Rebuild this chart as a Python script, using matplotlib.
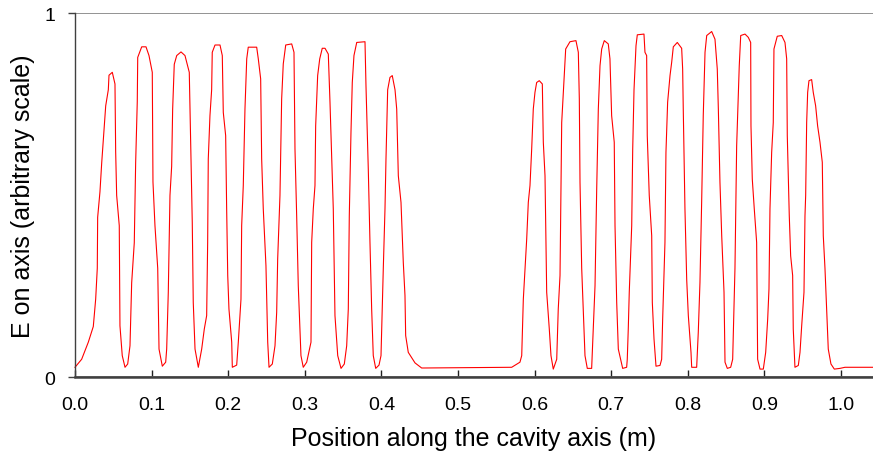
import matplotlib
matplotlib.use('Agg')
import matplotlib.pyplot as plt

# Campo eléctrico sobre el eje: muestreo del perfil a lo largo de la cavidad
pos_m = [
    0.000, 0.0087, 0.0174, 0.0239, 0.0270, 0.0291, 0.0296, 0.0326, 0.0349, 0.0369,
    0.0401, 0.0435, 0.0444, 0.0487, 0.0522, 0.0531, 0.0544, 0.0578, 0.0587, 0.0617,
    0.0653, 0.0688, 0.0718, 0.0740, 0.0774, 0.0792, 0.0813, 0.0819, 0.0871, 0.0927,
    0.0966, 0.1009, 0.1018, 0.1044, 0.1080, 0.1097, 0.1140, 0.1184, 0.1197, 0.1218,
    0.1240, 0.1262, 0.1275, 0.1296, 0.1328, 0.1384, 0.1436, 0.1492, 0.1514, 0.1531,
    0.1544, 0.1567, 0.1610, 0.1654, 0.1688, 0.1719, 0.1732, 0.1740, 0.1762, 0.1784,
    0.1792, 0.1828, 0.1893, 0.1923, 0.1936, 0.1967, 0.1980, 0.1994, 0.2010, 0.2046,
    0.2054, 0.2111, 0.2132, 0.2167, 0.2176, 0.2197, 0.2219, 0.2242, 0.2262, 0.2372,
    0.2393, 0.2424, 0.2437, 0.2458, 0.2493, 0.2516, 0.2533, 0.2576, 0.2611, 0.2633,
    0.2646, 0.2676, 0.2698, 0.2719, 0.2751, 0.2829, 0.2859, 0.2872, 0.2894, 0.2915,
    0.2950, 0.2980, 0.3025, 0.3081, 0.3090, 0.3111, 0.3133, 0.3142, 0.3168, 0.3195,
    0.3228, 0.3264, 0.3307, 0.3329, 0.3351, 0.3372, 0.3394, 0.3430, 0.3473, 0.3516,
    0.3547, 0.3568, 0.3581, 0.3603, 0.3620, 0.3642, 0.3678, 0.3786, 0.3799, 0.3829,
    0.3851, 0.3873, 0.3894, 0.3926, 0.3969, 0.3995, 0.4025, 0.4047, 0.4060, 0.4082,
    0.4112, 0.4142, 0.4178, 0.4200, 0.4221, 0.4256, 0.4286, 0.4308, 0.4317, 0.4351,
    0.4439, 0.4526, 0.5701, 0.5809, 0.5832, 0.5853, 0.5875, 0.5897, 0.5918, 0.5940,
    0.5962, 0.5983, 0.6005, 0.6027, 0.6061, 0.6101, 0.6114, 0.6136, 0.6158, 0.6192,
    0.6214, 0.6244, 0.6289, 0.6309, 0.6332, 0.6354, 0.6375, 0.6406, 0.6462, 0.6540,
    0.6571, 0.6584, 0.6593, 0.6615, 0.6658, 0.6688, 0.6745, 0.6766, 0.6789, 0.6811,
    0.6832, 0.6854, 0.6876, 0.6910, 0.6962, 0.6984, 0.7006, 0.7040, 0.7050, 0.7072,
    0.7093, 0.7150, 0.7202, 0.7210, 0.7223, 0.7236, 0.7268, 0.7281, 0.7298, 0.7324,
    0.7341, 0.7428, 0.7441, 0.7463, 0.7471, 0.7497, 0.7529, 0.7537, 0.7559, 0.7585,
    0.7637, 0.7659, 0.7672, 0.7702, 0.7715, 0.7737, 0.7768, 0.7790, 0.7811, 0.7863,
    0.7920, 0.7933, 0.7941, 0.7963, 0.7986, 0.8007, 0.8042, 0.8051, 0.8116, 0.8137,
    0.8159, 0.8181, 0.8202, 0.8225, 0.8247, 0.8312, 0.8355, 0.8385, 0.8399, 0.8420,
    0.8443, 0.8473, 0.8486, 0.8516, 0.8560, 0.8586, 0.8616, 0.8638, 0.8659, 0.8672,
    0.8691, 0.8747, 0.8790, 0.8821, 0.8825, 0.8842, 0.8868, 0.8899, 0.8912, 0.8943,
    0.8986, 0.9017, 0.9043, 0.9060, 0.9073, 0.9095, 0.9116, 0.9125, 0.9168, 0.9226,
    0.9269, 0.9291, 0.9299, 0.9325, 0.9343, 0.9369, 0.9377, 0.9399, 0.9443, 0.9465,
    0.9487, 0.9517, 0.9530, 0.9539, 0.9552, 0.9565, 0.9582, 0.9617, 0.9638, 0.9669,
    0.9695, 0.9726, 0.9756, 0.9769, 0.9791, 0.9813, 0.9834, 0.9869, 0.9913, 0.9987,
    1.0052, 1.0418,
]
e_axis = [
    0.028, 0.050, 0.097, 0.140, 0.215, 0.300, 0.440, 0.510, 0.590, 0.650,
    0.746, 0.790, 0.830, 0.838, 0.806, 0.620, 0.500, 0.417, 0.142, 0.060,
    0.028, 0.037, 0.087, 0.260, 0.370, 0.590, 0.757, 0.879, 0.908, 0.908,
    0.884, 0.838, 0.537, 0.417, 0.300, 0.078, 0.031, 0.042, 0.078, 0.234,
    0.500, 0.580, 0.737, 0.860, 0.884, 0.894, 0.884, 0.838, 0.609, 0.426,
    0.206, 0.078, 0.028, 0.078, 0.133, 0.170, 0.371, 0.600, 0.719, 0.790,
    0.893, 0.913, 0.913, 0.884, 0.728, 0.664, 0.463, 0.280, 0.188, 0.097,
    0.028, 0.034, 0.097, 0.215, 0.417, 0.527, 0.737, 0.875, 0.907, 0.907,
    0.875, 0.820, 0.600, 0.463, 0.307, 0.097, 0.028, 0.037, 0.087, 0.179,
    0.325, 0.500, 0.765, 0.861, 0.913, 0.916, 0.893, 0.627, 0.444, 0.252,
    0.060, 0.028, 0.042, 0.097, 0.371, 0.463, 0.527, 0.691, 0.829, 0.875,
    0.904, 0.904, 0.888, 0.756, 0.609, 0.463, 0.170, 0.060, 0.025, 0.037,
    0.087, 0.188, 0.444, 0.673, 0.810, 0.884, 0.920, 0.922, 0.800, 0.572,
    0.371, 0.188, 0.060, 0.025, 0.034, 0.060, 0.300, 0.463, 0.600, 0.790,
    0.824, 0.829, 0.790, 0.737, 0.554, 0.481, 0.316, 0.225, 0.115, 0.069,
    0.040, 0.026, 0.028, 0.042, 0.060, 0.215, 0.300, 0.380, 0.481, 0.527,
    0.627, 0.737, 0.783, 0.810, 0.815, 0.806, 0.646, 0.554, 0.234, 0.133,
    0.060, 0.023, 0.050, 0.188, 0.280, 0.700, 0.783, 0.902, 0.922, 0.925,
    0.893, 0.765, 0.536, 0.300, 0.060, 0.025, 0.025, 0.133, 0.252, 0.518,
    0.737, 0.856, 0.902, 0.925, 0.916, 0.875, 0.719, 0.646, 0.417, 0.206,
    0.078, 0.025, 0.028, 0.050, 0.133, 0.234, 0.417, 0.627, 0.790, 0.911,
    0.941, 0.943, 0.893, 0.884, 0.664, 0.500, 0.389, 0.206, 0.106, 0.031,
    0.033, 0.050, 0.160, 0.371, 0.618, 0.756, 0.829, 0.866, 0.908, 0.920,
    0.904, 0.847, 0.737, 0.463, 0.268, 0.170, 0.069, 0.028, 0.028, 0.124,
    0.261, 0.481, 0.719, 0.893, 0.939, 0.950, 0.929, 0.847, 0.737, 0.536,
    0.389, 0.234, 0.042, 0.025, 0.028, 0.050, 0.300, 0.636, 0.774, 0.856,
    0.939, 0.943, 0.934, 0.920, 0.691, 0.545, 0.463, 0.371, 0.050, 0.023,
    0.023, 0.069, 0.160, 0.243, 0.463, 0.618, 0.700, 0.902, 0.937, 0.939,
    0.920, 0.875, 0.664, 0.444, 0.334, 0.280, 0.133, 0.028, 0.033, 0.069,
    0.142, 0.234, 0.444, 0.500, 0.700, 0.783, 0.815, 0.818, 0.783, 0.746,
    0.691, 0.646, 0.591, 0.389, 0.300, 0.188, 0.078, 0.037, 0.023, 0.025,
    0.028, 0.028,
]

x_ticks = [0.0, 0.1, 0.2, 0.3, 0.4, 0.5, 0.6, 0.7, 0.8, 0.9, 1.0]
y_ticks = [0, 1]

plt.rcParams['font.family'] = ['Liberation Sans', 'DejaVu Sans']

fig = plt.figure(figsize=(8.73, 4.56), dpi=100)
ax = fig.add_axes([0.0859, 0.170, 0.9141, 0.7986])

ax.plot(pos_m, e_axis, color='#FF0000', lw=0.8, clip_on=False)

ax.set_xlim(0, 1.0418)
ax.set_ylim(0, 1)
ax.set_xticks(x_ticks)
ax.set_xticklabels([f'{t:.1f}' for t in x_ticks])
ax.set_yticks(y_ticks)
ax.set_yticklabels([str(t) for t in y_ticks])

ax.yaxis.grid(True, color='#808080', lw=1.2)
ax.set_axisbelow(True)
for s in ('top', 'right'):
    ax.spines[s].set_visible(False)
ax.spines['left'].set_color('#404040')
ax.spines['left'].set_linewidth(1.0)
ax.spines['bottom'].set_color('#404040')
ax.spines['bottom'].set_linewidth(1.8)

ax.tick_params(axis='x', direction='in', length=5, width=1, color='#202020',
               pad=13, labelsize=14)
ax.tick_params(axis='y', direction='out', length=5, width=1, color='#404040',
               pad=9, labelsize=14)

ax.set_xlabel('Position along the cavity axis (m)', fontsize=18, labelpad=10)
ax.set_ylabel('E on axis (arbitrary scale)', fontsize=18, labelpad=6.7)

fig.savefig('out.png', dpi=100)
